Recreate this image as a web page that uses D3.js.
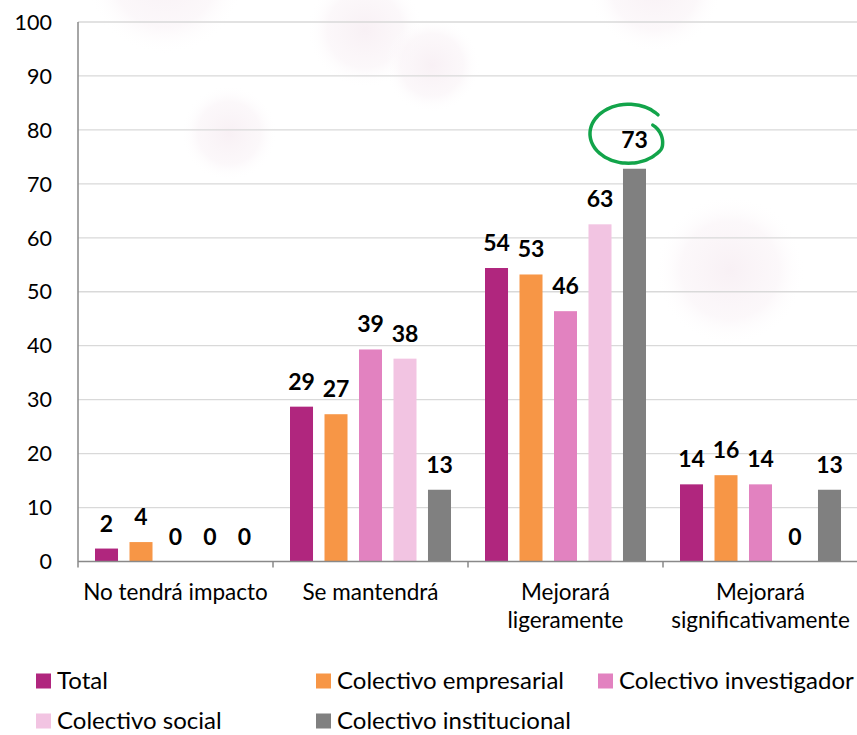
<!DOCTYPE html>
<html>
<head>
<meta charset="utf-8">
<script src="https://cdn.jsdelivr.net/npm/d3@7"></script>
<style>
  html, body { margin: 0; padding: 0; background: #ffffff; }
  svg { display: block; }
  text { font-family: Lato, "Open Sans", sans-serif; }
</style>
</head>
<body>
<svg id="chart" width="857" height="735"></svg>
<script>
// ---- data ----
const categories = ["No tendrá impacto", "Se mantendrá", "Mejorará ligeramente", "Mejorará significativamente"];
const categoryLines = [["No tendrá impacto"], ["Se mantendrá"], ["Mejorará", "ligeramente"], ["Mejorará", "significativamente"]];
const seriesNames = ["Total", "Colectivo empresarial", "Colectivo investigador", "Colectivo social", "Colectivo institucional"];
const totalValues = [2.4, 28.7, 54.4, 14.3];
const empresarialValues = [3.6, 27.3, 53.2, 16.0];
const investigadorValues = [0, 39.3, 46.4, 14.3];
const socialValues = [0, 37.6, 62.5, 0];
const institucionalValues = [0, 13.3, 72.8, 13.3];
const yTicks = [0, 10, 20, 30, 40, 50, 60, 70, 80, 90, 100];
const seriesColors = ["#B0267E", "#F79646", "#E282C0", "#F2C4E2", "#808080"];
const highlighted = { category: "Mejorará ligeramente", series: "Colectivo institucional" };

const seriesValues = [totalValues, empresarialValues, investigadorValues, socialValues, institucionalValues];

// ---- layout ----
const W = 857, H = 735;
const margin = { left: 78, right: -1, top: 22, bottom: 173 };
const svg = d3.select("#chart");

// background decoration (soft blobs)
const defs = svg.append("defs");
const grad = defs.append("radialGradient").attr("id", "blob");
grad.append("stop").attr("offset", "0%").attr("stop-color", "#f7eef3").attr("stop-opacity", 0.85);
grad.append("stop").attr("offset", "65%").attr("stop-color", "#f9f2f6").attr("stop-opacity", 0.55);
grad.append("stop").attr("offset", "100%").attr("stop-color", "#ffffff").attr("stop-opacity", 0);
const blobs = [
  { cx: 165, cy: -25, r: 80 }, { cx: 229, cy: 133, r: 48 }, { cx: 365, cy: 30, r: 58 },
  { cx: 432, cy: 65, r: 48 }, { cx: 655, cy: -15, r: 68 }, { cx: 730, cy: 270, r: 75 }
];
svg.append("g").selectAll("circle").data(blobs).join("circle")
  .attr("cx", d => d.cx).attr("cy", d => d.cy).attr("r", d => d.r)
  .attr("fill", "url(#blob)");

const x0 = d3.scaleBand().domain(categories).range([margin.left, W - margin.right]).paddingInner(0).paddingOuter(0);
const x1 = d3.scaleBand().domain(seriesNames).range([0, x0.bandwidth()]).paddingInner(0.333).paddingOuter(0.493).align(0.5);
const y = d3.scaleLinear().domain([0, 100]).range([H - margin.bottom - 0.5, margin.top]);

// gridlines
svg.append("g").selectAll("line").data(yTicks.filter(t => t > 0)).join("line")
  .attr("x1", margin.left).attr("x2", W)
  .attr("y1", d => y(d)).attr("y2", d => y(d))
  .attr("stroke", "#d9d9d9").attr("stroke-width", 1.3);

// y tick labels
svg.append("g").selectAll("text").data(yTicks).join("text")
  .attr("x", 52).attr("y", d => y(d)).attr("dy", "0.36em")
  .attr("text-anchor", "end").attr("font-size", 21.5).attr("fill", "#000")
  .text(d => d);

// bars
const groups = svg.append("g").selectAll("g").data(categories).join("g")
  .attr("transform", c => `translate(${x0(c)},0)`);
groups.each(function (c, ci) {
  const g = d3.select(this);
  const data = seriesNames.map((s, si) => ({ s, si, v: seriesValues[si][ci] }));
  g.selectAll("rect").data(data).join("rect")
    .attr("x", d => x1(d.s)).attr("width", x1.bandwidth())
    .attr("y", d => y(d.v)).attr("height", d => y(0) - y(d.v))
    .attr("fill", d => seriesColors[d.si]);
  g.selectAll("text").data(data).join("text")
    .attr("x", d => x1(d.s) + x1.bandwidth() / 2)
    .attr("y", d => y(d.v) - ((c === highlighted.category && d.s === highlighted.series) ? 21 : 17))
    .attr("text-anchor", "middle").attr("font-size", 23).attr("font-weight", "bold").attr("fill", "#000")
    .text(d => Math.round(d.v));
});

// axes lines
svg.append("line").attr("x1", margin.left).attr("x2", margin.left).attr("y1", y(100)).attr("y2", y(0) + 6)
  .attr("stroke", "#898989").attr("stroke-width", 1.5);
svg.append("line").attr("x1", margin.left).attr("x2", W).attr("y1", y(0)).attr("y2", y(0))
  .attr("stroke", "#898989").attr("stroke-width", 1.5);
svg.append("g").selectAll("line").data(categories).join("line")
  .attr("x1", c => x0(c) + x0.bandwidth()).attr("x2", c => x0(c) + x0.bandwidth())
  .attr("y1", y(0)).attr("y2", y(0) + 6)
  .attr("stroke", "#898989").attr("stroke-width", 1.5);

// category labels
const catG = svg.append("g").selectAll("text").data(categories).join("text")
  .attr("text-anchor", "middle").attr("font-size", 22.5).attr("fill", "#000");
catG.each(function (c, ci) {
  const t = d3.select(this);
  categoryLines[ci].forEach((line, li) => {
    t.append("tspan").attr("x", x0(c) + x0.bandwidth() / 2).attr("y", 600 + li * 28).text(line);
  });
});

// highlight annotation (hand-drawn circle around the top label)
{
  const ci = categories.indexOf(highlighted.category);
  const si = seriesNames.indexOf(highlighted.series);
  const v = seriesValues[si][ci];
  const cx = x0(highlighted.category) + x1(highlighted.series) + x1.bandwidth() / 2 - 6;
  const cy = y(v) - 35;
  const rx = 38.5, ry = 29.5;
  const pts = d3.range(0, 61).map(i => {
    const f = i / 60;
    const t = (-40 - f * 345) * Math.PI / 180;
    const k = f < 0.84 ? 1 : 1 - (f - 0.84) * 1.9;
    return [cx + rx * k * Math.cos(t), cy + ry * k * Math.sin(t)];
  });
  svg.append("path").attr("d", d3.line().curve(d3.curveCatmullRom)(pts))
    .attr("fill", "none").attr("stroke", "#12A44A").attr("stroke-width", 3.5).attr("stroke-linecap", "round");
}

// legend
const legendPos = [[36, 680.5], [316, 680.5], [598, 680.5], [36, 720.5], [316, 720.5]];
const leg = svg.append("g").selectAll("g").data(seriesNames).join("g")
  .attr("transform", (d, i) => `translate(${legendPos[i][0]},${legendPos[i][1]})`);
leg.append("rect").attr("x", 0).attr("y", -7).attr("width", 15).attr("height", 15)
  .attr("fill", (d, i) => seriesColors[i]);
leg.append("text").attr("x", 21).attr("y", 0).attr("dy", "0.36em")
  .attr("font-size", 24).attr("fill", "#000").text(d => d);
</script>
</body>
</html>
